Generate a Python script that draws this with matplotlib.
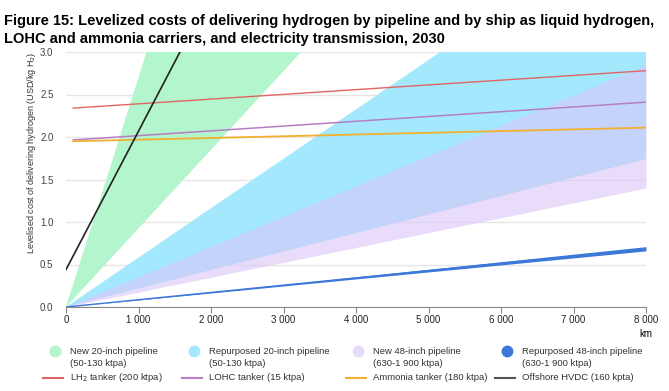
import matplotlib
matplotlib.use("Agg")
import matplotlib.pyplot as plt
from matplotlib.lines import Line2D
from matplotlib.ticker import FuncFormatter

plt.rcParams['font.family'] = ['Liberation Sans', 'DejaVu Sans']

# distance endpoints (km) and band edges (USD/kg H2)
dist = [0, 8000]
new20_low = [0, 7.4]
new20_high = [0, 21.6]
rep20_low = [0, 1.74]
rep20_high = [0, 4.65]
new48_low = [0, 1.40]
new48_high = [0, 2.85]
rep48_low = [0, 0.66]
rep48_high = [0, 0.71]

tanker_dist = [100, 8000]
lh2 = [2.34, 2.78]
lohc = [1.965, 2.41]
ammonia = [1.95, 2.11]

hvdc_dist = [0, 1572]
hvdc = [0.44, 3.0]

xticks = [0, 1000, 2000, 3000, 4000, 5000, 6000, 7000, 8000]
yticks = [0.0, 0.5, 1.0, 1.5, 2.0, 2.5, 3.0]

c_green = '#b3f5cc'
c_cyan = '#a3e8fc'
c_lav = '#d9c5f7'
c_blue = '#3c78d8'
c_red = '#e06666'
c_purple = '#b77ec6'
c_orange = '#f1b030'
c_black = '#222222'

fig = plt.figure(figsize=(6.69, 3.91), dpi=100)
ax = fig.add_axes([66 / 669, 84 / 391, 580 / 669, 255 / 391])

ax.fill_between(dist, new20_low, new20_high, color=c_green, lw=0)
ax.fill_between(dist, rep20_low, rep20_high, color=c_cyan, lw=0)
ax.fill_between(dist, new48_low, new48_high, color=c_lav, alpha=0.6, lw=0)
ax.fill_between(dist, rep48_low, rep48_high, color=c_blue, lw=0)
ax.plot(dist, [0, 0.685], color=c_blue, lw=1)

ax.plot(tanker_dist, lh2, color=c_red, lw=1)
ax.plot(tanker_dist, lohc, color=c_purple, lw=1.1)
ax.plot(tanker_dist, ammonia, color=c_orange, lw=1.3)
ax.plot(hvdc_dist, hvdc, color=c_black, lw=1.2)

ax.set_xlim(0, 8000)
ax.set_ylim(0, 3.0)
ax.set_xticks(xticks)
ax.set_yticks(yticks)
ax.xaxis.set_major_formatter(FuncFormatter(lambda v, p: f"{int(v):,}".replace(",", " ")))
ax.yaxis.set_major_formatter(FuncFormatter(lambda v, p: f"{v:.1f}"))
ax.grid(axis='y', color='#e6e6e6', lw=1)
ax.set_axisbelow(True)
for s in ['top', 'right', 'left']:
    ax.spines[s].set_visible(False)
ax.spines['bottom'].set_color('#888888')
ax.tick_params(axis='y', length=0, labelsize=7, colors='#444444', pad=9)
ax.tick_params(axis='x', length=4, color='#888888', labelsize=7, colors='#222222', pad=2)
ax.text(1.0, -0.085, 'km', transform=ax.transAxes, ha='center', va='top', fontsize=7)
ax.text(-0.06, 1.0, 'Levelised cost of delivering hydrogen (USD/kg H$_2$)', transform=ax.transAxes,
        rotation=90, ha='center', va='top', fontsize=6.5, color='#333333')

fig.text(0.006, 0.965, 'Figure 15: Levelized costs of delivering hydrogen by pipeline and by ship as liquid hydrogen,\n'
         'LOHC and ammonia carriers, and electricity transmission, 2030',
         fontsize=10.5, fontweight='bold', va='top', ha='left', linespacing=1.35)

# legend, row 1: bands as circles, row 2: lines
band_names = ['New 20-inch pipeline\n(50-130 ktpa)', 'Repurposed 20-inch pipeline\n(50-130 ktpa)',
              'New 48-inch pipeline\n(630-1 900 ktpa)', 'Repurposed 48-inch pipeline\n(630-1 900 ktpa)']
band_colors = [c_green, c_cyan, '#e6dcfa', c_blue]
line_names = ['LH$_2$ tanker (200 ktpa)', 'LOHC tanker (15 ktpa)',
              'Ammonia tanker (180 ktpa)', 'Offshore HVDC (160 kpta)']
line_colors = [c_red, c_purple, c_orange, '#555555']
col_x = [70, 209, 373, 522]

for i in range(4):
    x = col_x[i] / 669
    fig.add_artist(Line2D([x - 15 / 669], [1 - 351 / 391], marker='o', markersize=7.5,
                          color=band_colors[i], transform=fig.transFigure))
    fig.text(x, 1 - 357.5 / 391, band_names[i], fontsize=6.8, va='center', ha='left',
             color='#333333', linespacing=1.45)
    fig.add_artist(Line2D([x - 27 / 669, x - 7 / 669], [1 - 378 / 391] * 2, lw=1.5,
                          color=line_colors[i], transform=fig.transFigure))
    fig.text(x, 1 - 378 / 391, line_names[i], fontsize=6.8, va='center', ha='left',
             color='#333333')

fig.savefig('out.png', dpi=100)
